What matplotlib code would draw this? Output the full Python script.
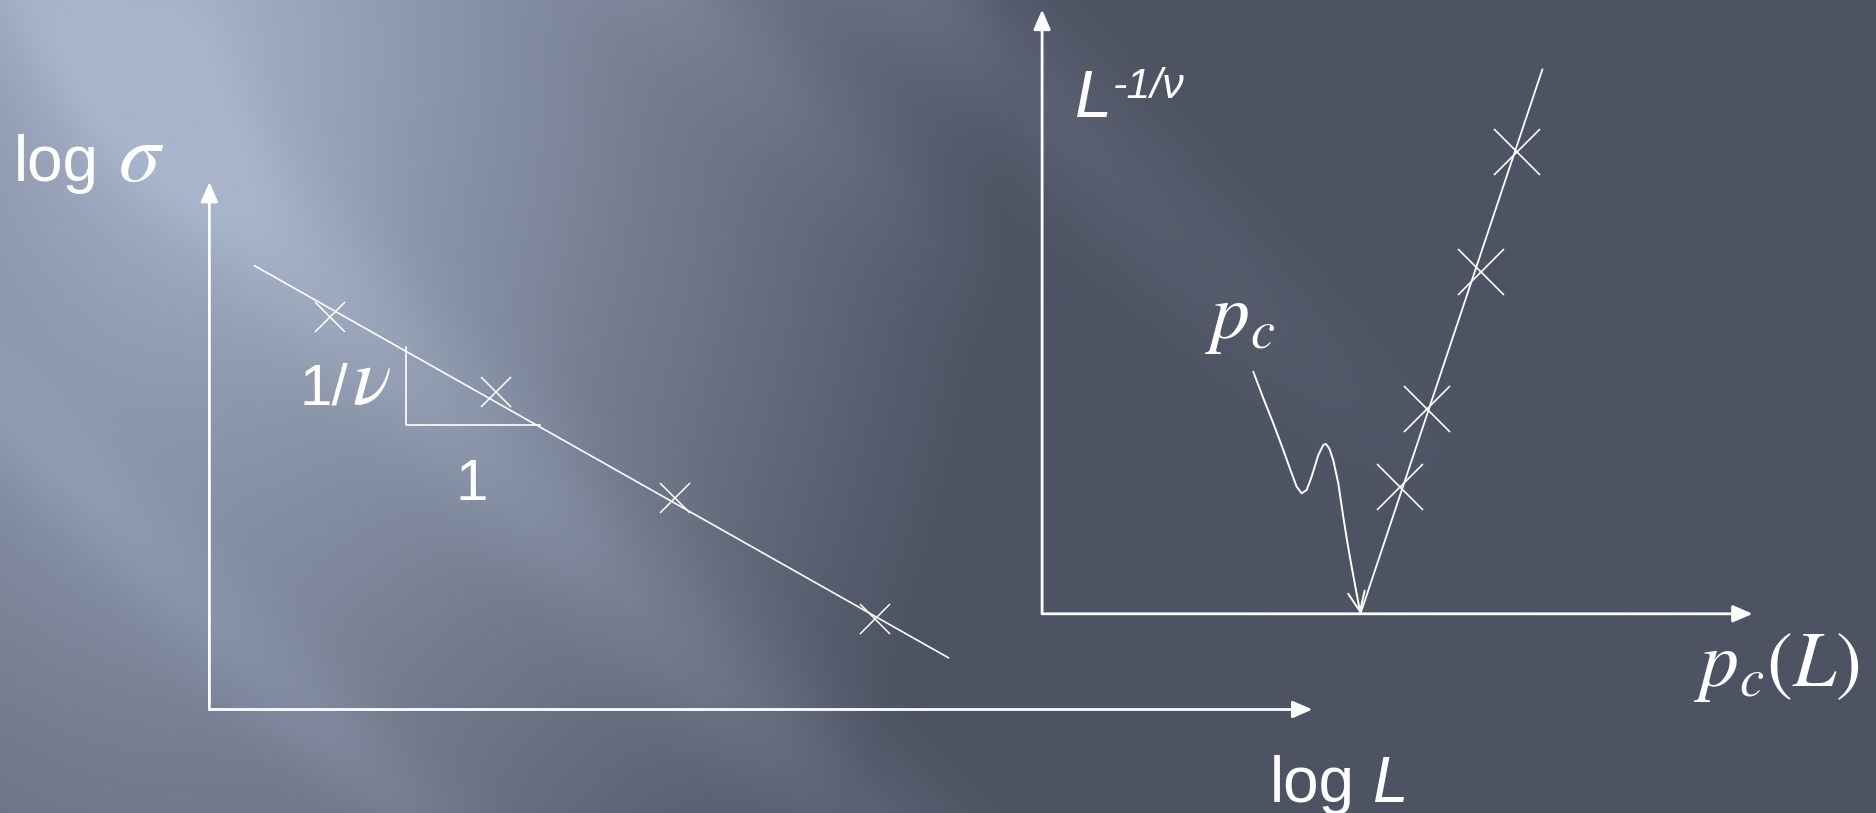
import numpy as np
import matplotlib
matplotlib.use("Agg")
import matplotlib.pyplot as plt

plt.rcParams['font.family'] = ['Liberation Sans', 'DejaVu Sans']
plt.rcParams['mathtext.fontset'] = 'stix'

# ---------------- data (schematic units, 0..10 on each panel) ----------------
# left panel: log sigma vs log L
left_cross_logL = [1.09, 2.60, 4.22, 6.03]
left_cross_logsigma = [7.44, 6.01, 4.00, 1.72]
left_fit_logL = [0.41, 6.70]
left_fit_logsigma = [8.41, 0.98]
slope_tri_logL = [1.78, 1.78, 3.00]
slope_tri_logsigma = [6.87, 5.40, 5.40]

# right panel: L^{-1/nu} vs p_c(L)
pc_cross_x = [5.04, 5.41, 6.18, 6.69]
pc_cross_y = [2.10, 3.39, 5.65, 7.65]
pc_fit_x = [4.48, 7.04]
pc_fit_y = [0.0, 9.01]
# hand-drawn pointer from the "p_c" label to the intercept
pointer_x = [2.972, 3.113, 3.254, 3.394, 3.512, 3.582, 3.653, 3.723, 3.793, 3.887,
             3.957, 3.995, 4.041, 4.097, 4.168, 4.238, 4.294, 4.356, 4.417, 4.48]
pointer_y = [4.007, 3.567, 3.153, 2.711, 2.325, 2.104, 1.994, 2.049, 2.269, 2.628,
             2.794, 2.810, 2.739, 2.545, 2.160, 1.607, 1.193, 0.780, 0.394, 0.0]

W, H = 1876, 813
fig = plt.figure(figsize=(W / 100, H / 100), dpi=100)

# ---------------- background ----------------
axbg = fig.add_axes([0, 0, 1, 1])
axbg.set_xlim(0, W)
axbg.set_ylim(H, 0)
axbg.axis('off')
ny, nx = 271, 626
X, Y = np.meshgrid(np.linspace(0, 1568, nx), np.linspace(0, 680, ny))
d = np.hypot((X - 150) * 1.3, (Y - 40) * 0.85)
t = np.clip(1 - d / 900.0, 0, 1)
s = X - Y
t += 0.16 * np.exp(-((s - 30) / 85) ** 2)
t += 0.11 * np.exp(-((s + 340) / 60) ** 2)
t += 0.17 * np.exp(-((s - 780) / 80) ** 2) * np.clip(1 - Y / 450, 0, 1)
t += 0.10 * np.exp(-((s - 570) / 70) ** 2) * np.clip(1 - Y / 300, 0, 1)
t = np.clip(t, 0, 1)
dark = np.array([0x4d, 0x53, 0x63]) / 255
light = np.array([0xa8, 0xb4, 0xcb]) / 255
img = dark[None, None, :] + t[..., None] * (light - dark)[None, None, :]
axbg.imshow(img, extent=[0, W, H, 0], aspect='auto', interpolation='bilinear', zorder=0)

WHITE = 'white'

def panel(x0, y0, x1, y1):
    ax = fig.add_axes([x0 / W, 1 - y0 / H, (x1 - x0) / W, (y0 - y1) / H])
    ax.set_xlim(0, 10)
    ax.set_ylim(0, 10)
    ax.axis('off')
    ax.patch.set_alpha(0)
    arrow = dict(arrowstyle='-|>,head_length=0.6,head_width=0.26', color=WHITE,
                 lw=2.0, mutation_scale=20, shrinkA=0, shrinkB=0)
    ax.annotate('', xy=(1, 0), xytext=(0, 0), xycoords='axes fraction', arrowprops=arrow)
    ax.annotate('', xy=(0, 1), xytext=(0, 0), xycoords='axes fraction', arrowprops=arrow)
    return ax

# ---------------- left panel ----------------
axL = panel(209.4, 709.5, 1312.5, 181.9)
axL.plot(left_fit_logL, left_fit_logsigma, color=WHITE, lw=1.2, clip_on=False)
axL.plot(slope_tri_logL, slope_tri_logsigma, color=WHITE, lw=1.2, clip_on=False)
axL.plot(left_cross_logL, left_cross_logsigma, ls='none', marker='x', ms=22, mew=1.1,
         color=WHITE, clip_on=False)

# ---------------- right panel ----------------
axR = panel(1042.1, 613.8, 1752.7, 9.6)
axR.plot(pc_fit_x, pc_fit_y, color=WHITE, lw=1.3, clip_on=False)
axR.plot(pc_cross_x, pc_cross_y, ls='none', marker='x', ms=33, mew=1.2,
         color=WHITE, clip_on=False)
axR.plot(pointer_x[:-1], pointer_y[:-1], color=WHITE, lw=1.4, clip_on=False,
         solid_capstyle='round', solid_joinstyle='round')
axR.annotate('', xy=(pointer_x[-1], pointer_y[-1]), xytext=(pointer_x[-2], pointer_y[-2]),
             arrowprops=dict(arrowstyle='->,head_length=0.7,head_width=0.3', color=WHITE,
                             lw=1.4, mutation_scale=20, shrinkA=0, shrinkB=0))

# ---------------- labels ----------------
tk = dict(color=WHITE, va='baseline', ha='left')
axbg.text(14, 181, 'log', fontsize=46, **tk)
axbg.text(118, 181, r'$\sigma$', fontsize=60, **tk)
axbg.text(1270, 802, 'log', fontsize=46, **tk)
axbg.text(1372, 802, 'L', fontsize=46, style='italic', **tk)
axbg.text(299, 404, '1/', fontsize=42, **tk)
axbg.text(352, 404, r'$\nu$', fontsize=58, **tk)
axbg.text(455, 500, '1', fontsize=42, **tk)
axbg.text(1075, 117, 'L', fontsize=48, style='italic', **tk)
axbg.text(1113, 98, '-1/\u03bd', fontsize=31, style='italic', **tk)
axbg.text(1205, 338, r'$p_c$', fontsize=56, **tk)
axbg.text(1694, 686, r'$p_c(L)$', fontsize=56, **tk)

fig.savefig('out.png', dpi=100)
